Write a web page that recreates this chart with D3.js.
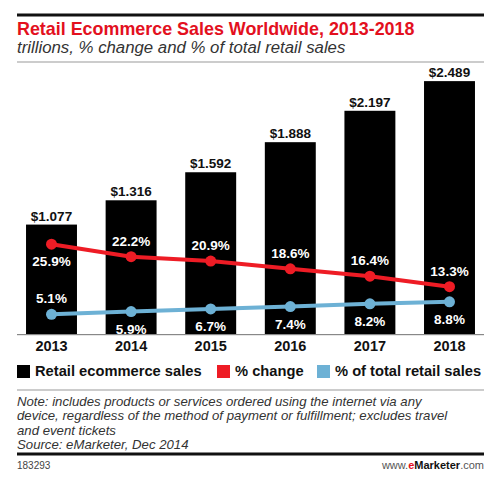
<!DOCTYPE html>
<html><head><meta charset="utf-8">
<script src="https://cdn.jsdelivr.net/npm/d3@7"></script>
<style>body{margin:0;background:#fff}svg{display:block}text{font-family:"Liberation Sans",Arial,sans-serif}</style>
</head><body>
<svg id="c" width="500" height="483"></svg>
<script>
const years = ["2013","2014","2015","2016","2017","2018"];
const sales = [1.077, 1.316, 1.592, 1.888, 2.197, 2.489];
const pctChange = [25.9, 22.2, 20.9, 18.6, 16.4, 13.3];
const pctTotal = [5.1, 5.9, 6.7, 7.4, 8.2, 8.8];
const salesLabels = ["$1.077","$1.316","$1.592","$1.888","$2.197","$2.489"];
const changeLabels = ["25.9%","22.2%","20.9%","18.6%","16.4%","13.3%"];
const totalLabels = ["5.1%","5.9%","6.7%","7.4%","8.2%","8.8%"];
const legendItems = ["Retail ecommerce sales","% change","% of total retail sales"];

const RED = "#ee1c25", BLUE = "#6db1d5";
const svg = d3.select("#c");
const L = 17, R = 484, base = 334;

// header
svg.append("rect").attr("x",L).attr("y",13.5).attr("width",R-L).attr("height",3).attr("fill","#111");
svg.append("text").attr("x",L).attr("y",35).attr("fill","#e3101e").attr("font-weight","bold").attr("font-size",17.9)
  .text("Retail Ecommerce Sales Worldwide, 2013-2018");
svg.append("text").attr("x",L).attr("y",53).attr("fill","#333").attr("font-style","italic").attr("font-size",16.8)
  .text("trillions, % change and % of total retail sales");
svg.append("rect").attr("x",L).attr("y",61.5).attr("width",R-L).attr("height",1).attr("fill","#999");

const x = d3.scaleBand().domain(years).range([11.7, 489.3]).paddingInner(0.36).paddingOuter(0.18);
const y = d3.scaleLinear().domain([0, 2.5]).range([base, 80]);
const yp = d3.scaleLinear().domain([0, 30]).range([331.5, 230.4]);

const cx = d => x(d) + x.bandwidth()/2;

svg.selectAll("rect.bar").data(years).join("rect").attr("class","bar")
  .attr("x", d => x(d)).attr("width", x.bandwidth())
  .attr("y", (d,i) => y(sales[i])).attr("height", (d,i) => base - y(sales[i])).attr("fill","#000");

svg.selectAll("text.sl").data(years).join("text").attr("class","sl")
  .attr("x", cx).attr("y", (d,i) => y(sales[i]) - 4).attr("text-anchor","middle")
  .attr("font-weight","bold").attr("font-size",13.5).attr("fill","#111").text((d,i) => salesLabels[i]);

// axis
const axis = svg.append("g").attr("transform",`translate(0,${base})`).call(d3.axisBottom(x).tickSize(0).tickPadding(7));
axis.select(".domain").remove();
axis.selectAll("text").attr("font-size",14.5).attr("font-weight","bold").attr("fill","#111").style("font-family","'Liberation Sans',Arial,sans-serif");
svg.append("rect").attr("x",L).attr("y",base).attr("width",R-L).attr("height",1.2).attr("fill","#888");

// lines
const line = arr => d3.line().x((d,i) => cx(years[i])).y(d => yp(d))(arr);
svg.append("path").attr("d", line(pctTotal)).attr("fill","none").attr("stroke",BLUE).attr("stroke-width",4);
svg.append("path").attr("d", line(pctChange)).attr("fill","none").attr("stroke",RED).attr("stroke-width",4);
svg.selectAll("circle.b").data(pctTotal).join("circle").attr("class","b")
  .attr("cx",(d,i)=>cx(years[i])).attr("cy",d=>yp(d)).attr("r",5.5).attr("fill",BLUE);
svg.selectAll("circle.r").data(pctChange).join("circle").attr("class","r")
  .attr("cx",(d,i)=>cx(years[i])).attr("cy",d=>yp(d)).attr("r",5.5).attr("fill",RED);

svg.selectAll("text.cl").data(pctChange).join("text").attr("class","cl")
  .attr("x",(d,i)=>cx(years[i])).attr("y",(d,i)=> i===0 ? yp(d)+22 : yp(d)-11)
  .attr("text-anchor","middle").attr("font-weight","bold").attr("font-size",13.5).attr("fill","#fff")
  .text((d,i)=>changeLabels[i]);
svg.selectAll("text.tl").data(pctTotal).join("text").attr("class","tl")
  .attr("x",(d,i)=>cx(years[i])).attr("y",(d,i)=> i===0 ? yp(d)-11 : yp(d)+22)
  .attr("text-anchor","middle").attr("font-weight","bold").attr("font-size",13.5).attr("fill","#fff")
  .text((d,i)=>totalLabels[i]);

// legend
const legColors = ["#000", RED, BLUE];
const legX = [17, 217, 317];
legendItems.forEach((t,i) => {
  svg.append("rect").attr("x",legX[i]).attr("y",365).attr("width",13).attr("height",13).attr("fill",legColors[i]);
  svg.append("text").attr("x",legX[i]+18).attr("y",376).attr("font-weight","bold").attr("font-size",14.7).attr("fill","#111").text(t);
});
svg.append("rect").attr("x",L).attr("y",389.5).attr("width",R-L).attr("height",1).attr("fill","#999");

// notes
const notes = ["Note: includes products or services ordered using the internet via any",
  "device, regardless of the method of payment or fulfillment; excludes travel",
  "and event tickets",
  "Source: eMarketer, Dec 2014"];
notes.forEach((t,i) => svg.append("text").attr("x",L).attr("y",406 + i*14.3).attr("font-style","italic")
  .attr("font-size",13.2).attr("fill","#333").text(t));

svg.append("rect").attr("x",L).attr("y",452.5).attr("width",R-L).attr("height",3).attr("fill","#111");
svg.append("text").attr("x",L).attr("y",469).attr("font-size",10).attr("fill","#444").text("183293");
const ft = svg.append("text").attr("x",R).attr("y",469).attr("text-anchor","end").attr("font-size",11).attr("fill","#555");
ft.append("tspan").text("www.");
ft.append("tspan").attr("fill","#e3101e").attr("font-weight","bold").text("e");
ft.append("tspan").attr("fill","#111").attr("font-weight","bold").text("Marketer");
ft.append("tspan").text(".com");
</script>
</body></html>
